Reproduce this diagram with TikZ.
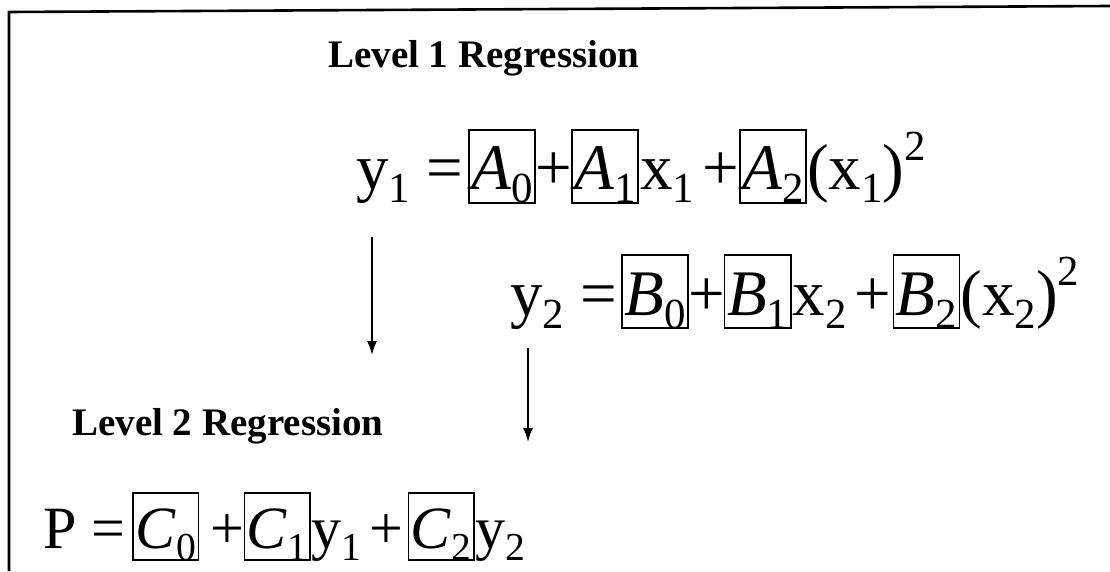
\documentclass[tikz,border=0pt]{standalone}
\usepackage{fontspec}
\setmainfont{Liberation Serif}
\usepackage{graphicx}
\usetikzlibrary{arrows.meta}
\newcommand\sbs[1]{\raisebox{-0.2em}{\scalebox{0.66}{#1}}}
\newcommand\sps[1]{\raisebox{0.45em}{\scalebox{0.66}{#1}}}
\newcommand\eqbig{\fontsize{65}{78}\selectfont}
\newcommand\eqsmall{\fontsize{60}{72}\selectfont}
\begin{document}
\begin{tikzpicture}[x=1pt,y=1pt,
  txt/.style={inner sep=0pt, outer sep=0pt, anchor=base west},
  coef/.style={draw, line width=1.6pt, inner xsep=2.5pt, inner ysep=0pt,
    outer sep=0pt, anchor=base west},
  big/.style={font=\eqbig},
  bigbox/.style={coef, font=\eqbig, text height=60pt, text depth=13pt},
  small/.style={font=\eqsmall},
  smallbox/.style={coef, font=\eqsmall, text height=55pt, text depth=12pt},
  head/.style={inner sep=0pt, anchor=base west, font=\fontsize{39}{46}\selectfont\bfseries},
  frame/.style={line width=2.6pt},
  arr/.style={line width=1.6pt, -{Latex[length=14pt,width=10pt]}}]
\useasboundingbox (0,0) rectangle (1110,571);
\draw[frame] (9,0) -- (9,559) -- (1110,565);
% headings
\node[head] (h1) at (328,503) {Level 1 Regression};
\node[head] (h2) at (72,136) {Level 2 Regression};
% equation 1
\node[txt, big] (e1a) at (356,381) {y\sbs{1} =};
\node[bigbox, xshift=6pt] (a0) at (e1a.base east) {\textit{A}\sbs{0}};
\node[txt, big] (e1b) at (a0.base east) {+};
\node[bigbox] (a1) at (e1b.base east) {\textit{A}\sbs{1}};
\node[txt, big, xshift=2pt] (e1c) at (a1.base east) {x\sbs{1}};
\node[txt, big, xshift=8pt] (e1d) at (e1c.base east) {+};
\node[bigbox, xshift=1pt] (a2) at (e1d.base east) {\textit{A}\sbs{2}};
\node[txt, big, xshift=1pt] (e1e) at (a2.base east) {(x\sbs{1})\sps{2}};
% equation 2
\node[txt, big] (e2a) at (510,256) {y\sbs{2} =};
\node[bigbox, xshift=5pt] (b0) at (e2a.base east) {\textit{B}\sbs{0}};
\node[txt, big] (e2b) at (b0.base east) {+};
\node[bigbox] (b1) at (e2b.base east) {\textit{B}\sbs{1}};
\node[txt, big, xshift=2pt] (e2c) at (b1.base east) {x\sbs{2}};
\node[txt, big, xshift=8pt] (e2d) at (e2c.base east) {+};
\node[bigbox, xshift=2pt] (b2) at (e2d.base east) {\textit{B}\sbs{2}};
\node[txt, big, xshift=1pt] (e2e) at (b2.base east) {(x\sbs{2})\sps{2}};
% equation 3
\node[txt, small] (e3a) at (43,23) {P =};
\node[smallbox, xshift=8pt] (c0) at (e3a.base east) {\textit{C}\sbs{0}};
\node[txt, small, xshift=12pt] (e3b) at (c0.base east) {+};
\node[smallbox] (c1) at (e3b.base east) {\textit{C}\sbs{1}};
\node[txt, small, xshift=2pt] (e3c) at (c1.base east) {y\sbs{1}};
\node[txt, small, xshift=8pt] (e3d) at (e3c.base east) {+};
\node[smallbox, xshift=5pt] (c2) at (e3d.base east) {\textit{C}\sbs{2}};
\node[txt, small, xshift=2pt] (e3e) at (c2.base east) {y\sbs{2}};
% arrows
\coordinate (p1s) at (372,334);
\coordinate (p1e) at (372,216);
\coordinate (p2s) at (528,223);
\coordinate (p2e) at (528,129);
\draw[arr] (p1s) -- (p1e);
\draw[arr] (p2s) -- (p2e);
\end{tikzpicture}
\end{document}
